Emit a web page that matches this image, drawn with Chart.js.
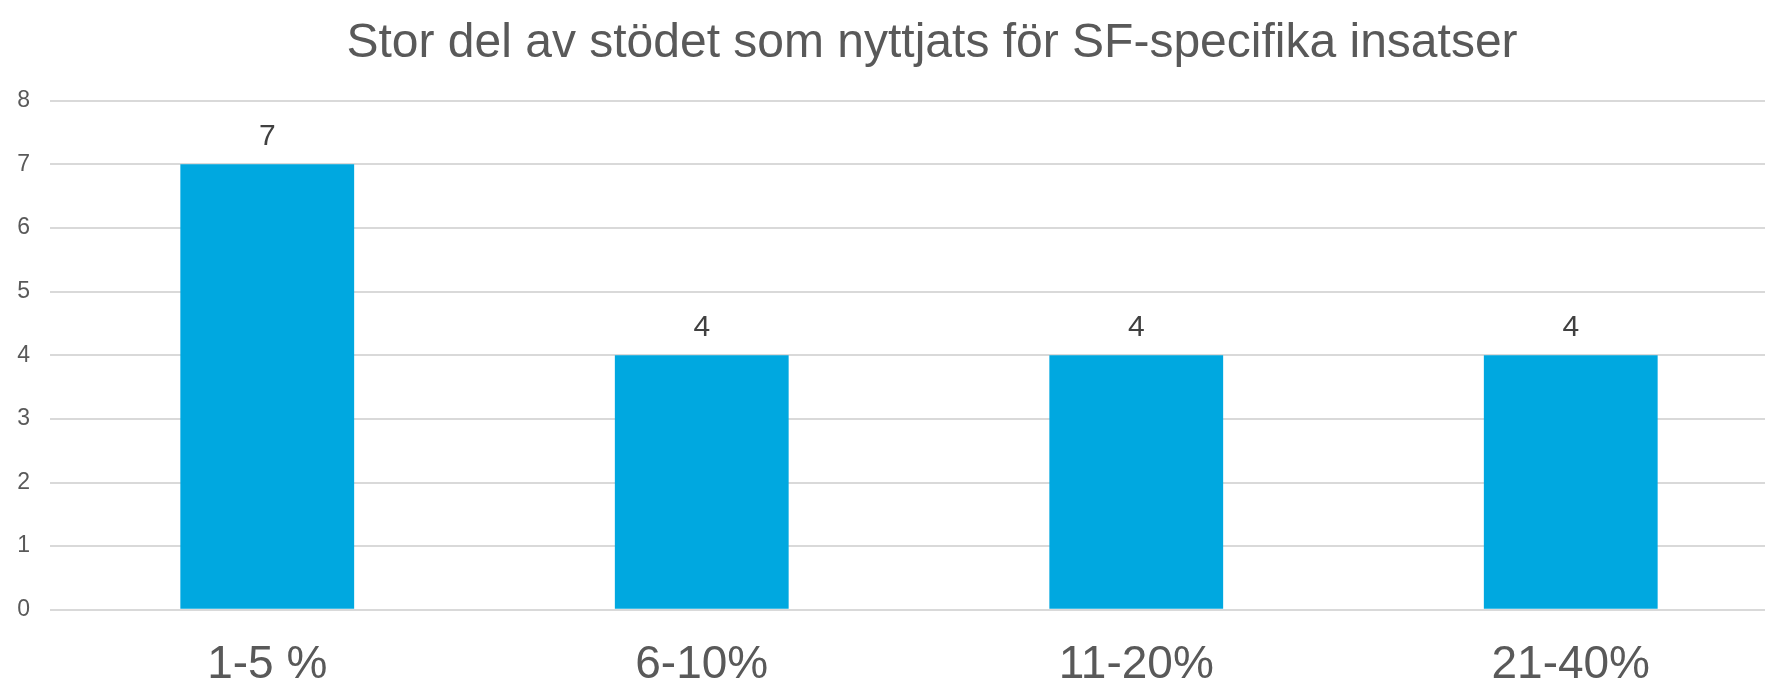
<!DOCTYPE html>
<html>
<head>
<meta charset="utf-8">
<title>Stor del av stödet</title>
<script src="https://cdn.jsdelivr.net/npm/chart.js@4/dist/chart.umd.min.js"></script>
<style>
  body { margin: 0; background: #fff; overflow: hidden; }
</style>
</head>
<body>
<!-- canvas a bit wider than the window: the plot runs past the right edge in the original -->
<canvas id="myChart" width="1788" height="688"></canvas>
<script>
'use strict';

// ****Data****
let categories = ['1-5 %', '6-10%', '11-20%', '21-40%'];
let counts = [7, 4, 4, 4];
let yTicks = [0, 1, 2, 3, 4, 5, 6, 7, 8];
let chartTitle = 'Stor del av stödet som nyttjats för SF-specifika insatser';

const ctx = document.getElementById('myChart').getContext('2d');
const fontFamily = '"Liberation Sans", Arial, sans-serif';

// value labels on top of the bars
let valueLabels = {
  id: 'valueLabels',
  afterDatasetsDraw(chart) {
    let c = chart.ctx;
    let meta = chart.getDatasetMeta(0);
    c.save();
    c.font = '30px ' + fontFamily;
    c.fillStyle = '#404040';
    c.textAlign = 'center';
    c.textBaseline = 'alphabetic';
    meta.data.forEach(function(bar, i) {
      c.fillText(String(counts[i]), bar.x, bar.y - 19);
    });
    c.restore();
  }
};

// nudge title to where it sits in the original
let titleShift = {
  id: 'titleShift',
  afterLayout(chart) {
    if (chart.titleBlock) {
      chart.titleBlock.left += 38;
      chart.titleBlock.right += 38;
    }
  }
};

let myChart = new Chart(ctx, {
  type: 'bar',
  data: {
    labels: categories,
    datasets: [{
      data: counts,
      backgroundColor: '#00A8E0',
      borderWidth: 0,
      barPercentage: 0.4,
      categoryPercentage: 1
    }]
  },
  options: {
    responsive: false,
    animation: false,
    layout: { padding: { bottom: -25 } },
    plugins: {
      legend: { display: false },
      tooltip: { enabled: false },
      title: {
        display: true,
        text: chartTitle,
        color: '#595959',
        font: { family: fontFamily, size: 48, weight: 'normal', lineHeight: 1.2 },
        padding: { top: 15, bottom: 28 }
      }
    },
    scales: {
      x: {
        grid: { display: false },
        border: { display: false },
        ticks: {
          color: '#595959',
          font: { family: fontFamily, size: 46 },
          padding: 20,
          maxRotation: 0
        }
      },
      y: {
        min: 0,
        max: 8,
        afterFit(scale) { scale.width = 50; },
        afterBuildTicks(scale) {
          scale.ticks = yTicks.map(function(v) { return { value: v }; });
        },
        grid: { color: '#d9d9d9', lineWidth: 2, drawTicks: false },
        border: { display: false },
        ticks: {
          color: '#595959',
          font: { family: fontFamily, size: 23 },
          padding: 20
        }
      }
    }
  },
  plugins: [valueLabels, titleShift]
});
</script>
</body>
</html>
